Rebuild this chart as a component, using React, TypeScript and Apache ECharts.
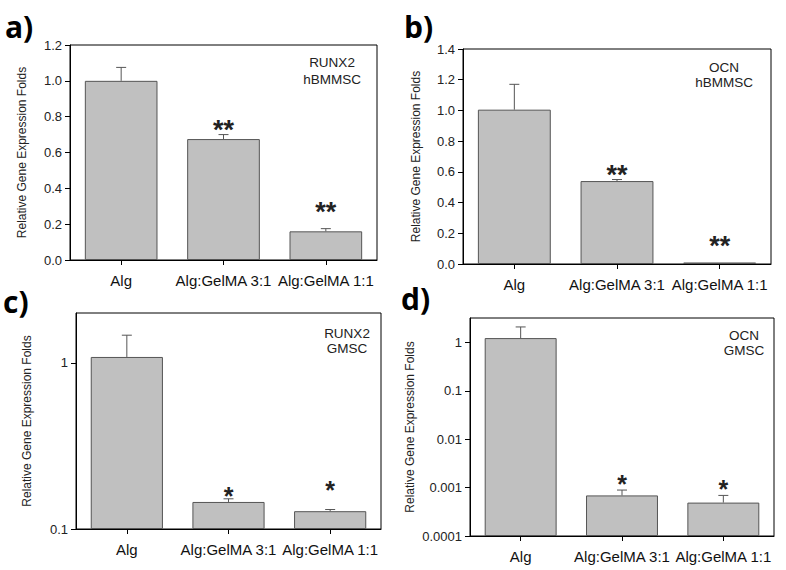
import React, { useEffect, useRef } from "react";
import * as echarts from "echarts";

const categories = ["Alg", "Alg:GelMA 3:1", "Alg:GelMA 1:1"];

// a) RUNX2 hBMMSC
const runx2BmValues = [1.0, 0.675, 0.16];
const runx2BmErrTop = [1.075, 0.7, 0.175];
const runx2BmStars = ["", "**", "**"];
const runx2BmStarAt = [0, 0.745, 0.285];

// b) OCN hBMMSC
const ocnBmValues = [1.005, 0.54, 0.01];
const ocnBmErrTop = [1.17, 0.55, null];
const ocnBmStars = ["", "**", "**"];
const ocnBmStarAt = [0, 0.6, 0.137];

// c) RUNX2 GMSC (log)
const runx2GmValues = [1.087, 0.1455, 0.128];
const runx2GmErrTop = [1.47, 0.152, 0.131];
const runx2GmStars = ["", "*", "*"];
const runx2GmStarAt = [1, 0.165, 0.18];

// d) OCN GMSC (log)
const ocnGmValues = [1.23, 0.00069, 0.00049];
const ocnGmErrTop = [2.09, 0.00089, 0.00069];
const ocnGmStars = ["", "*", "*"];
const ocnGmStarAt = [1, 0.00137, 0.00108];

const linTicksA = { min: 0, max: 1.2, interval: 0.2 };
const linTicksB = { min: 0, max: 1.4, interval: 0.2 };
const logTicksC = [0.1, 1];
const logTicksD = [0.0001, 0.001, 0.01, 0.1, 1];

const panelLetters = ["a)", "b)", "c)", "d)"];
const annotations = [
  ["RUNX2", "hBMMSC"],
  ["OCN", "hBMMSC"],
  ["RUNX2", "GMSC"],
  ["OCN", "GMSC"],
];
const yTitle = "Relative Gene Expression Folds";

const FONT = "'Liberation Sans', Arial, sans-serif";

export default function App() {
  const ref = useRef<HTMLDivElement>(null);
  useEffect(() => {
    if (!ref.current) return;
    const chart = echarts.init(ref.current, undefined, { renderer: "svg" });

    const grids = [
      { left: 70, top: 45, width: 307, height: 215 },
      { left: 463, top: 49, width: 308, height: 215 },
      { left: 76, top: 313, width: 305, height: 216 },
      { left: 470, top: 318, width: 304, height: 218 },
    ];
    const nameGaps = [42, 41, 43, 54];

    const panels = [
      { values: runx2BmValues, err: runx2BmErrTop, stars: runx2BmStars, starAt: runx2BmStarAt },
      { values: ocnBmValues, err: ocnBmErrTop, stars: ocnBmStars, starAt: ocnBmStarAt },
      { values: runx2GmValues, err: runx2GmErrTop, stars: runx2GmStars, starAt: runx2GmStarAt },
      { values: ocnGmValues, err: ocnGmErrTop, stars: ocnGmStars, starAt: ocnGmStarAt },
    ];

    const fmtLog = (v: number) => String(Number(Number(v).toPrecision(4)));

    const yAxes: any[] = [0, 1, 2, 3].map((i) => {
      const base: any = {
        gridIndex: i,
        name: yTitle,
        nameLocation: "middle",
        nameGap: nameGaps[i],
        nameTextStyle: { fontSize: 12, color: "#222", fontFamily: FONT },
        axisLine: { show: true, lineStyle: { color: "#000", width: 1 } },
        axisTick: { show: true, inside: false, length: 5, lineStyle: { color: "#000" } },
        axisLabel: { fontSize: 13, color: "#222", fontFamily: FONT, margin: 8 },
        splitLine: { show: false },
      };
      if (i === 0 || i === 1) {
        const t = i === 0 ? linTicksA : linTicksB;
        base.type = "value";
        base.min = t.min;
        base.max = t.max;
        base.interval = t.interval;
        base.axisLabel.formatter = (v: number) => v.toFixed(1);
      } else {
        const ticks = i === 2 ? logTicksC : logTicksD;
        base.type = "log";
        base.logBase = 10;
        base.min = i === 2 ? 0.1 : 0.0001;
        base.max = i === 2 ? 2 : 3.2;
        base.startValue = base.min;
        base.axisLabel.customValues = ticks;
        base.axisLabel.formatter = fmtLog;
        base.axisTick.customValues = ticks;
      }
      return base;
    });

    const xAxes = [0, 1, 2, 3].map((i) => ({
      type: "category",
      gridIndex: i,
      data: categories,
      boundaryGap: true,
      axisLine: { show: true, lineStyle: { color: "#000", width: 1 } },
      axisTick: { show: true, alignWithLabel: true, inside: false, length: 5, lineStyle: { color: "#000" } },
      axisLabel: { fontSize: 15, color: "#111", fontFamily: FONT, margin: 13, interval: 0 },
      splitLine: { show: false },
    }));

    const series: any[] = [];
    panels.forEach((p, i) => {
      series.push({
        type: "bar",
        xAxisIndex: i,
        yAxisIndex: i,
        data: p.values,
        barWidth: "71%",
        itemStyle: { color: "#c0c0c0", borderColor: "#555", borderWidth: 1 },
        z: 2,
      });
      series.push({
        type: "custom",
        xAxisIndex: i,
        yAxisIndex: i,
        z: 3,
        data: p.values.map((v, k) => [k, v, p.err[k] == null ? NaN : p.err[k]]),
        renderItem: (params: any, api: any) => {
          const x = api.value(0);
          const top = api.value(2);
          if (top == null || isNaN(top)) return { type: "group", children: [] };
          const p0 = api.coord([x, api.value(1)]);
          const p1 = api.coord([x, top]);
          return {
            type: "group",
            children: [
              { type: "line", shape: { x1: p0[0], y1: p0[1], x2: p1[0], y2: p1[1] }, style: { stroke: "#555", lineWidth: 1 } },
              { type: "line", shape: { x1: p1[0] - 5, y1: p1[1], x2: p1[0] + 5, y2: p1[1] }, style: { stroke: "#555", lineWidth: 1 } },
            ],
          };
        },
      });
      series.push({
        type: "custom",
        xAxisIndex: i,
        yAxisIndex: i,
        z: 4,
        data: p.starAt.map((v, k) => [k, v]),
        renderItem: (params: any, api: any) => {
          const k = params.dataIndex;
          const s = p.stars[k];
          if (!s) return { type: "group", children: [] };
          const c = api.coord([api.value(0), api.value(1)]);
          const fs = s.length > 1 ? 27 : 25;
          return {
            type: "text",
            x: c[0],
            y: c[1] + fs * 0.12,
            style: {
              text: s,
              fontSize: fs,
              fontWeight: "bold",
              fontFamily: FONT,
              fill: "#222",
              align: "center",
              verticalAlign: "middle",
            },
          };
        },
      });
    });

    const annPos = [
      [332, 62, 79],
      [724, 67, 82],
      [347, 333, 348],
      [744, 335, 350],
    ];
    const letterPos = [
      [5, 26],
      [404, 26],
      [3, 301],
      [401, 298],
    ];
    const graphic: any[] = [];
    annotations.forEach((a, i) => {
      graphic.push({
        type: "text",
        x: annPos[i][0],
        y: annPos[i][1],
        style: { text: a[0], fontSize: 13.5, fontFamily: FONT, fill: "#222", align: "center", verticalAlign: "middle" },
      });
      graphic.push({
        type: "text",
        x: annPos[i][0],
        y: annPos[i][2],
        style: { text: a[1], fontSize: 13.5, fontFamily: FONT, fill: "#222", align: "center", verticalAlign: "middle" },
      });
    });
    panelLetters.forEach((l, i) => {
      graphic.push({
        type: "text",
        x: letterPos[i][0],
        y: letterPos[i][1],
        style: { text: l, fontSize: 30, fontWeight: 700, fontFamily: "'Open Sans', sans-serif", fill: "#000", align: "left", verticalAlign: "middle" },
      });
    });

    chart.setOption({
      animation: false,
      backgroundColor: "#fff",
      grid: grids.map((g) => ({ ...g, show: true, borderColor: "#000", borderWidth: 1, backgroundColor: "transparent", containLabel: false })),
      xAxis: xAxes,
      yAxis: yAxes,
      series,
      graphic,
    });
    return () => chart.dispose();
  }, []);
  return <div ref={ref} style={{ position: "absolute", left: 0, top: 0, width: 786, height: 570 }} />;
}
